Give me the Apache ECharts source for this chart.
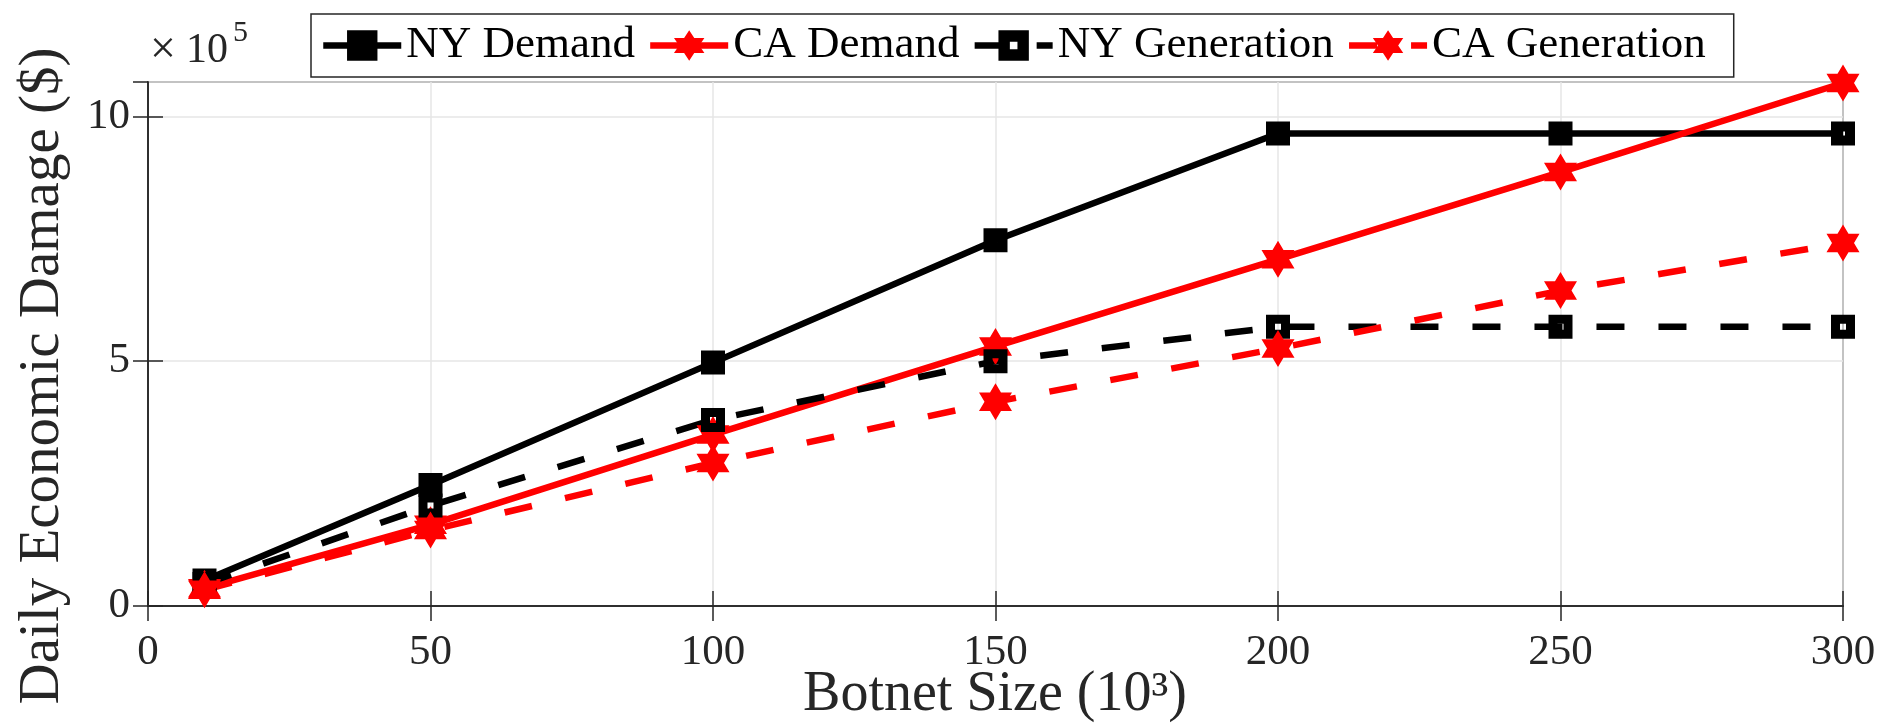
<!DOCTYPE html>
<html><head><meta charset="utf-8">
<script src="https://cdn.jsdelivr.net/npm/echarts@6/dist/echarts.min.js"></script>
<style>html,body{margin:0;padding:0;background:#fff}#c{width:1881px;height:724px}</style>
</head><body><div id="c"></div>
<script>
// Botnet size (10^3) and daily economic damage (x10^5 $)
const botnetSize = [10, 50, 100, 150, 200, 250, 300];
const nyDemand     = [0.52, 2.47, 4.97, 7.47, 9.65, 9.65, 9.65];
const caDemand     = [0.36, 1.66, 3.50, 5.30, 7.08, 8.86, 10.68];
const nyGeneration = [0.45, 2.05, 3.80, 5.00, 5.70, 5.70, 5.70];
const caGeneration = [0.33, 1.55, 2.92, 4.17, 5.26, 6.44, 7.41];
const seriesNames = ['NY Demand', 'CA Demand', 'NY Generation', 'CA Generation'];
const xTickLabels = [0, 50, 100, 150, 200, 250, 300];
const yTickLabels = [0, 5, 10];
const xTitle = 'Botnet Size (10³)';
const yTitle = 'Daily Economic Damage ($)';

const FONT = 'Liberation Serif';
const TXT = '#262626';
const AX = '#262626';
const HEX = 'path://M50,0 L64.43,25 L93.3,25 L78.87,50 L93.3,75 L64.43,75 L50,100 L35.57,75 L6.7,75 L21.13,50 L6.7,25 L35.57,25 Z';
const SQ_FILL = 'path://M0,0 H24 V24 H0 Z M10,10 V14 H14 V10 Z';
const SQ_HOLE = 'path://M0,0 H24 V24 H0 Z M9,9 V15 H15 V9 Z';
const LW = 6.5;
const DASH = [28, 34];

function pairs(ys){ return botnetSize.map((x,i)=>[x, ys[i]]); }

const chart = echarts.init(document.getElementById('c'), null, {renderer:'canvas'});
const xMin = xTickLabels[0], xMax = xTickLabels[xTickLabels.length-1];
const yMax = 10.7;

chart.setOption({
  animation:false,
  backgroundColor:'#fff',
  grid:{left:148, right:38, top:82, bottom:118, outerBoundsMode:'none', containLabel:false,
        show:true, borderColor:AX, borderWidth:1.5, backgroundColor:'transparent'},
  legend:{
    data: seriesNames,
    left:311, top:14,
    orient:'horizontal',
    padding:[9,28,9,9],
    itemWidth:78, itemHeight:38, itemGap:12,
    backgroundColor:'#fff',
    borderColor:AX, borderWidth:1.5,
    lineStyle:{width:LW},
    textStyle:{fontFamily:FONT, fontSize:45, color:'#000'}
  },
  graphic:[
    {type:'text', left:150, top:28, z:10, style:{text:'×', fontFamily:FONT, fontSize:46, fill:TXT}},
    {type:'text', left:186, top:30, z:10, style:{text:'10', fontFamily:FONT, fontSize:42, fill:TXT}},
    {type:'text', left:233, top:18, z:10, style:{text:'5', fontFamily:FONT, fontSize:30, fill:TXT}},
    {type:'text', x:43, y:376, rotation:Math.PI/2, z:10,
     style:{text:yTitle, fontFamily:FONT, fontSize:57, fill:TXT, align:'center', verticalAlign:'middle'}},
    {type:'text', x:995, y:695, z:10,
     style:{text:xTitle, fontFamily:FONT, fontSize:56, fill:TXT, align:'center', verticalAlign:'middle'}}
  ],
  xAxis:[{
    type:'value', min:xMin, max:xMax, interval:50,
    axisLine:{show:true, lineStyle:{color:AX, width:1.5}},
    axisTick:{show:true, inside:true, length:15, lineStyle:{color:AX, width:1.5}},
    axisLabel:{margin:25, fontFamily:FONT, fontSize:43, color:TXT,
      formatter:v=> xTickLabels.includes(v) ? String(v) : ''},
    splitLine:{show:true, lineStyle:{color:'#e6e6e6', width:1.5}}
  },{
    type:'value', position:'top', min:xMin, max:xMax, interval:50,
    axisLine:{show:true, lineStyle:{color:AX, width:1.5}},
    axisTick:{show:true, inside:true, length:15, lineStyle:{color:AX, width:1.5}},
    axisLabel:{show:false}, splitLine:{show:false}
  }],
  yAxis:[{
    type:'value', min:0, max:yMax, interval:5,
    axisLine:{show:true, lineStyle:{color:AX, width:1.5}},
    axisTick:{show:true, inside:true, length:15, lineStyle:{color:AX, width:1.5}},
    axisLabel:{margin:18, fontFamily:FONT, fontSize:43, color:TXT, showMaxLabel:false,
      formatter:v=> yTickLabels.includes(v) ? String(v) : ''},
    splitLine:{show:true, lineStyle:{color:'#e6e6e6', width:1.5}}
  },{
    type:'value', position:'right', min:0, max:yMax, interval:5,
    axisLine:{show:true, lineStyle:{color:AX, width:1.5}},
    axisTick:{show:true, inside:true, length:15, lineStyle:{color:AX, width:1.5}},
    axisLabel:{show:false}, splitLine:{show:false}
  }],
  series:[
    {name:seriesNames[0], type:'line', data:pairs(nyDemand),
     symbol:SQ_FILL, symbolSize:24, showAllSymbol:true,
     lineStyle:{color:'#000', width:LW, type:'solid'},
     itemStyle:{color:'#000', borderWidth:0}},
    {name:seriesNames[1], type:'line', data:pairs(caDemand),
     symbol:HEX, symbolSize:[33,37], symbolKeepAspect:false,
     lineStyle:{color:'#ff0000', width:LW, type:'solid'},
     itemStyle:{color:'#ff0000', borderWidth:0}},
    {name:seriesNames[2], type:'line', data:pairs(nyGeneration),
     symbol:SQ_HOLE, symbolSize:24,
     lineStyle:{color:'#000', width:LW, type:DASH, cap:'butt'},
     itemStyle:{color:'#000', borderWidth:0}},
    {name:seriesNames[3], type:'line', data:pairs(caGeneration),
     symbol:HEX, symbolSize:[33,37], symbolKeepAspect:false,
     lineStyle:{color:'#ff0000', width:LW, type:DASH, cap:'butt'},
     itemStyle:{color:'#ff0000', borderWidth:0}}
  ]
});
</script></body></html>
